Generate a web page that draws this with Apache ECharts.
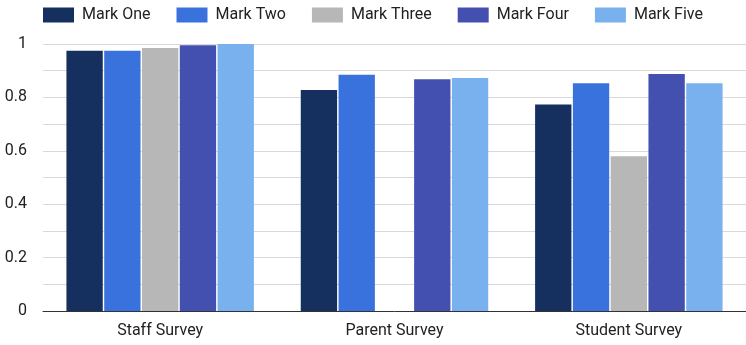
<!DOCTYPE html>
<html>
<head>
<meta charset="utf-8">
<script src="https://cdn.jsdelivr.net/npm/echarts@6/dist/echarts.min.js"></script>
<style>
  html, body { margin: 0; padding: 0; background: #fff; }
  #chart { width: 746px; height: 345px; }
</style>
</head>
<body>
<div id="chart"></div>
<script>
const categories = ['Staff Survey', 'Parent Survey', 'Student Survey']
const seriesNames = ['Mark One', 'Mark Two', 'Mark Three', 'Mark Four', 'Mark Five']
const markOne = [0.975, 0.828, 0.773]
const markTwo = [0.975, 0.885, 0.853]
const markThree = [0.985, null, 0.58]
const markFour = [0.995, 0.868, 0.888]
const markFive = [1.0, 0.873, 0.853]
const colors = ['#15305f', '#3a72dd', '#b7b7b7', '#4350b0', '#79b1ee']

const values = [markOne, markTwo, markThree, markFour, markFive]

const chart = echarts.init(document.getElementById('chart'), null, { renderer: 'canvas' })

const options = {
  backgroundColor: '#fff',
  animation: false,
  textStyle: { fontFamily: 'Roboto' },
  legend: {
    left: 43,
    top: 7,
    padding: 0,
    itemWidth: 31,
    itemHeight: 15,
    itemGap: 26,
    icon: 'rect',
    textStyle: { fontSize: 16, color: '#222', fontFamily: 'Roboto', padding: [0, 0, 0, 3] },
    data: seriesNames
  },
  grid: {
    left: 43,
    right: 0,
    top: 44,
    bottom: 34,
    containLabel: false
  },
  xAxis: {
    type: 'category',
    data: categories,
    axisTick: { show: false },
    axisLine: { lineStyle: { color: '#333', width: 1 } },
    axisLabel: { fontSize: 16, color: '#222', margin: 12 }
  },
  yAxis: {
    type: 'value',
    min: 0,
    max: 1,
    interval: 0.1,
    axisLine: { show: false },
    axisTick: { show: false },
    splitLine: { lineStyle: { color: '#d9d9d9', width: 1 } },
    axisLabel: {
      fontSize: 16,
      color: '#222',
      margin: 16,
      formatter: (v) => Math.round(v * 10) % 2 === 0 ? String(+v.toFixed(1)) : ''
    }
  },
  series: seriesNames.map((name, i) => ({
    name: name,
    type: 'bar',
    data: values[i],
    barGap: '4%',
    barCategoryGap: '20%',
    itemStyle: { color: colors[i] }
  }))
}

chart.setOption(options)
</script>
</body>
</html>
